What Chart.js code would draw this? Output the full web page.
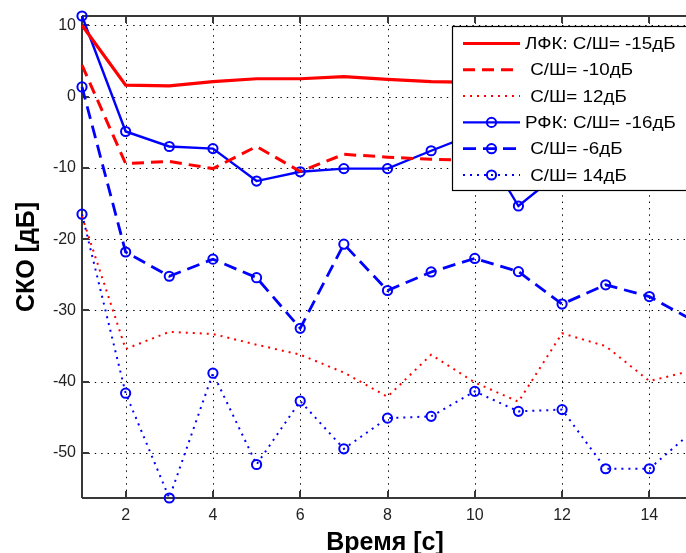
<!DOCTYPE html>
<html>
<head>
<meta charset="utf-8">
<script src="https://cdn.jsdelivr.net/npm/chart.js@4.4.1/dist/chart.umd.min.js"></script>
<style>
html, body { margin: 0; padding: 0; background: #fff; overflow: hidden; }
#marco { width: 686px; height: 553px; overflow: hidden; }
canvas { display: block; }
</style>
</head>
<body>
<div id="marco"><canvas id="grafica" width="700" height="553"></canvas></div>
<script>
// --- 1. DATOS ---
const tiempos = [1, 2, 3, 4, 5, 6, 7, 8, 9, 10, 11, 12, 13, 14, 15];
const ticksX = [2, 4, 6, 8, 10, 12, 14];
const ticksY = [-50, -40, -30, -20, -10, 0, 10];
const etiquetas = ['ЛФК: С/Ш= -15дБ', ' С/Ш= -10дБ', ' С/Ш= 12дБ', 'РФК: С/Ш= -16дБ', ' С/Ш= -6дБ', ' С/Ш= 14дБ'];

const lfkMenos15 = [10, 1.6, 1.5, 2.1, 2.5, 2.5, 2.8, 2.4, 2.1, 2.0, 2.2, 2.0, 2.1, 1.9, 2.0];
const lfkMenos10 = [4.4, -9.4, -9.1, -10.1, -7.0, -10.5, -8.1, -8.5, -8.8, -8.9, -9.2, -8.8, -9.0, -9.1, -8.9];
const lfkMas12 = [-16.8, -35.4, -33.0, -33.3, -34.8, -36.2, -38.7, -42.1, -36.2, -40.1, -42.8, -33.2, -35.0, -39.9, -38.4];
const rfkMenos16 = [11.3, -4.9, -7.0, -7.3, -11.85, -10.55, -10.1, -10.1, -7.6, -5.2, -15.35, -10.4, -9.2, -8.6, -8.0];
const rfkMenos6 = [1.35, -21.8, -25.2, -22.8, -25.4, -32.5, -20.7, -27.2, -24.6, -22.7, -24.55, -29.1, -26.4, -28.05, -31.4];
const rfkMas14 = [-16.5, -41.6, -56.3, -38.8, -51.6, -42.7, -49.4, -45.1, -44.85, -41.35, -44.15, -43.9, -52.2, -52.2, -46.9];

const series = [lfkMenos15, lfkMenos10, lfkMas12, rfkMenos16, rfkMenos6, rfkMas14];

// --- 2. ESTILOS (estilo matlab) ---
const ROJO = '#ff0000', AZUL = '#0000ff';
const FUENTE = "'Liberation Sans', Arial, sans-serif";
const estilos = [
    { color: ROJO, ancho: 3.2, guion: [], marca: false },
    { color: ROJO, ancho: 3, guion: [12, 7], marca: false },
    { color: ROJO, ancho: 2, guion: [2, 5], marca: false },
    { color: AZUL, ancho: 2.4, guion: [], marca: true },
    { color: AZUL, ancho: 2.8, guion: [13, 7], marca: true },
    { color: AZUL, ancho: 2, guion: [2, 5], marca: true }
];

const linea = (ctx, x1, y1, x2, y2) => { ctx.beginPath(); ctx.moveTo(x1, y1); ctx.lineTo(x2, y2); ctx.stroke(); };

// rejilla punteada, caja de ejes y marcas hacia dentro
const rejillaPlugin = {
    id: 'rejilla',
    beforeDatasetsDraw(chart) {
        const { ctx, chartArea: a, scales: { x, y } } = chart;
        ctx.save();
        ctx.strokeStyle = '#000'; ctx.lineWidth = 1; ctx.setLineDash([1.4, 5]);
        ticksX.forEach(v => { const px = Math.round(x.getPixelForValue(v)) + 0.5; linea(ctx, px, a.top, px, a.bottom); });
        ticksY.forEach(v => { const py = Math.round(y.getPixelForValue(v)) + 0.5; linea(ctx, a.left, py, a.right, py); });
        ctx.setLineDash([]);
        ctx.strokeStyle = '#383838'; ctx.lineWidth = 2;
        linea(ctx, a.left, a.top, a.right, a.top);
        linea(ctx, a.left, a.bottom, a.right, a.bottom);
        linea(ctx, a.left, a.top, a.left, a.bottom);
        linea(ctx, a.right, a.top, a.right, a.bottom);
        ticksX.forEach(v => { const px = Math.round(x.getPixelForValue(v)); linea(ctx, px, a.bottom, px, a.bottom - 7); linea(ctx, px, a.top, px, a.top + 7); });
        ticksY.forEach(v => { const py = Math.round(y.getPixelForValue(v)); linea(ctx, a.left, py, a.left + 7, py); linea(ctx, a.right, py, a.right - 7, py); });
        ctx.restore();
    }
};

// leyenda dentro del eje (como matlab, tapa las curvas)
const leyendaPlugin = {
    id: 'leyendaMatlab',
    afterDatasetsDraw(chart) {
        const { ctx } = chart;
        const x0 = 452.5, y0 = 26.5, x1 = 690, y1 = 190.5;
        ctx.save();
        ctx.fillStyle = '#fff'; ctx.fillRect(x0, y0, x1 - x0, y1 - y0);
        ctx.strokeStyle = '#000'; ctx.lineWidth = 1.2; ctx.strokeRect(x0, y0, x1 - x0, y1 - y0);
        etiquetas.forEach((txt, i) => {
            const e = estilos[i], yc = 43.5 + i * 26.3;
            ctx.strokeStyle = e.color; ctx.lineWidth = e.ancho; ctx.setLineDash(e.guion);
            linea(ctx, 463, yc, 520, yc);
            ctx.setLineDash([]);
            if (e.marca) { ctx.lineWidth = 2; ctx.beginPath(); ctx.arc(491.5, yc, 4.6, 0, Math.PI * 2); ctx.stroke(); }
            // texto algo mas ancho, como el de matlab
            ctx.save();
            ctx.translate(525, yc + 1); ctx.scale(1.14, 1);
            ctx.fillStyle = '#000'; ctx.font = '16.5px ' + FUENTE; ctx.textBaseline = 'middle'; ctx.textAlign = 'left';
            ctx.fillText(txt, 0, 0);
            ctx.restore();
        });
        ctx.restore();
    },
    afterDraw(chart) {
        const { ctx, chartArea: a } = chart;
        ctx.save();
        ctx.fillStyle = '#000'; ctx.font = 'bold 25px ' + FUENTE; ctx.textAlign = 'center';
        ctx.textBaseline = 'alphabetic'; ctx.fillText('Время [с]', 385, 550);
        ctx.translate(27, (a.top + a.bottom) / 2); ctx.rotate(-Math.PI / 2);
        ctx.textBaseline = 'middle'; ctx.fillText('СКО [дБ]', 0, 0);
        ctx.restore();
    }
};

// --- 3. GRÁFICA ---
const conjuntos = series.map((valores, i) => {
    const e = estilos[i];
    return {
        label: etiquetas[i], data: valores.map((v, j) => ({ x: tiempos[j], y: v })),
        borderColor: e.color, borderWidth: e.ancho, borderDash: e.guion, tension: 0, fill: false, clip: false,
        pointRadius: e.marca ? 4.6 : 0, pointBorderWidth: 2, pointBorderColor: e.color, pointBackgroundColor: 'rgba(0,0,0,0)', pointStyle: 'circle'
    };
});

new Chart(document.getElementById('grafica'), {
    type: 'line',
    data: { datasets: conjuntos },
    options: {
        responsive: false, animation: false, devicePixelRatio: 1,
        layout: { padding: { top: 16, right: 7, left: 0, bottom: 0 } },
        plugins: { legend: { display: false }, tooltip: { enabled: false } },
        scales: {
            x: {
                type: 'linear', min: 1, max: 15,
                afterBuildTicks: s => { s.ticks = ticksX.map(v => ({ value: v })); },
                afterFit: s => { s.height = 55; },
                grid: { display: false, drawTicks: false }, border: { display: false },
                ticks: { font: { family: FUENTE, size: 16 }, color: '#222', padding: 8, maxRotation: 0, autoSkip: false }
            },
            y: {
                type: 'linear', min: -56.3, max: 11.3,
                afterBuildTicks: s => { s.ticks = ticksY.map(v => ({ value: v })); },
                afterFit: s => { s.width = 82; },
                grid: { display: false, drawTicks: false }, border: { display: false },
                ticks: { font: { family: FUENTE, size: 16 }, color: '#222', padding: 6, autoSkip: false }
            }
        }
    },
    plugins: [rejillaPlugin, leyendaPlugin]
});
</script>
</body>
</html>
